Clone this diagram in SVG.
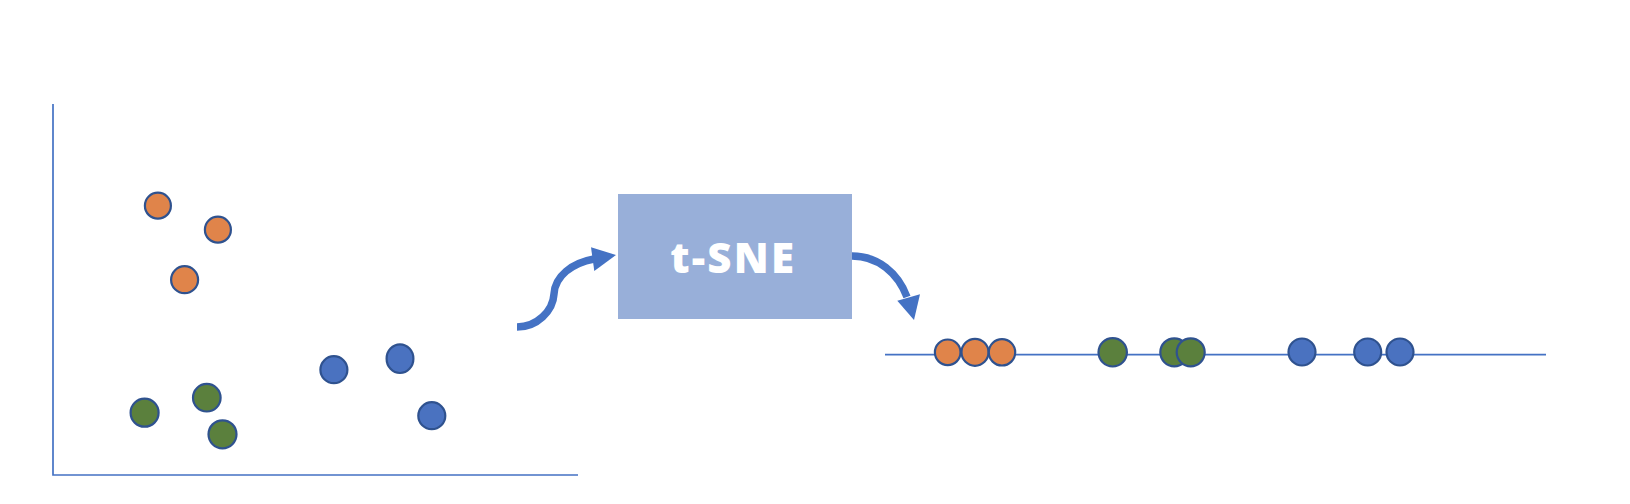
<svg xmlns="http://www.w3.org/2000/svg" width="1630" height="504" viewBox="0 0 1630 504">
<style>
.axis{stroke:#4472C4;stroke-width:1.7;fill:none}
.o{fill:#E0844A;stroke:#2F528F;stroke-width:2.2}
.g{fill:#5B803D;stroke:#2F528F;stroke-width:2.2}
.b{fill:#4A72C0;stroke:#2F528F;stroke-width:2.2}
.arr{stroke:#4472C4;stroke-width:7.5;fill:none}
.head{fill:#4472C4}
.lbl{font-family:"Open Sans","Noto Sans",sans-serif;font-weight:800;font-size:42px;letter-spacing:2.2px;fill:#FFFFFF}
</style>
<rect width="1630" height="504" fill="#FFFFFF"/>
<g id="plot2d">
<path class="axis" d="M53,104 V475 H578"/>
<circle class="o" cx="157.9" cy="205.7" r="13"/>
<circle class="o" cx="217.9" cy="229.7" r="13"/>
<circle class="o" cx="184.6" cy="279.7" r="13.5"/>
<circle class="g" cx="144.6" cy="412.7" r="14"/>
<circle class="g" cx="206.8" cy="397.7" r="13.8"/>
<circle class="g" cx="222.5" cy="434.3" r="14"/>
<circle class="b" cx="333.9" cy="369.7" r="13.5"/>
<ellipse class="b" cx="400" cy="358.7" rx="13.4" ry="14.3"/>
<circle class="b" cx="431.8" cy="415.7" r="13.5"/>
</g>
<g id="tsne">
<rect x="618" y="194" width="234" height="125" fill="#98AFD9"/>
<text class="lbl" x="733.2" y="273" text-anchor="middle">t-SNE</text>
</g>
<g id="connectors">
<path class="arr" d="M517,327 C537,327 553,311 554,294 C555,276 572,263 594,259"/>
<polygon class="head" points="616,255 591,247.3 594.3,271"/>
<path class="arr" d="M852,256 C878,256 898,273 907,297"/>
<polygon class="head" points="914,320 897.3,300.7 920,294.3"/>
</g>
<g id="plot1d">
<line class="axis" x1="885" y1="354.6" x2="1546" y2="354.6" stroke-width="1.8"/>
<circle class="o" cx="947.7" cy="352.3" r="12.8"/>
<circle class="o" cx="975" cy="352.3" r="13.5"/>
<circle class="o" cx="1002" cy="352.3" r="13.2"/>
<circle class="g" cx="1112.7" cy="352.3" r="14.2"/>
<circle class="g" cx="1174.3" cy="352.3" r="14"/>
<circle class="g" cx="1190.7" cy="352.3" r="14"/>
<circle class="b" cx="1302" cy="352" r="13.5"/>
<circle class="b" cx="1367.7" cy="352" r="13.5"/>
<circle class="b" cx="1400" cy="352" r="13.5"/>
</g>
</svg>
